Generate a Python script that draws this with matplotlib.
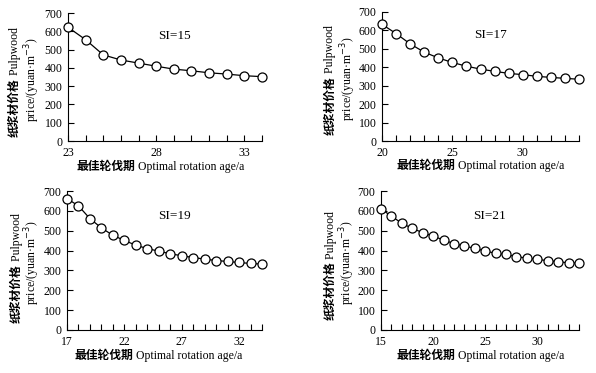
import numpy as np
import matplotlib.pyplot as plt

plt.rcParams['font.family'] = ['Liberation Serif', 'Noto Sans CJK SC']
plt.rcParams['font.size'] = 9

# 各林分的最佳轮伐期与纸浆材价格
age15 = list(range(23, 35))
price15 = [622, 554, 471, 443, 426, 409, 393, 384, 373, 366, 357, 352]
age17 = list(range(20, 35))
price17 = [633, 583, 527, 482, 451, 426, 406, 390, 378, 367, 360, 351, 345, 340, 335]
age19 = list(range(17, 35))
price19 = [662, 625, 561, 514, 477, 451, 427, 410, 397, 384, 374, 365, 357, 350, 345, 340, 335, 332]
age21 = list(range(15, 35))
price21 = [609, 574, 537, 512, 490, 473, 453, 435, 423, 411, 398, 386, 381, 369, 362, 356, 349, 344, 338, 337]

labels = ["SI=15", "SI=17", "SI=19", "SI=21"]
series = [(age15, price15), (age17, price17), (age19, price19), (age21, price21)]
major = [[23, 28, 33], [20, 25, 30], [17, 22, 27, 32], [15, 20, 25, 30]]

W, H = 596, 373
fig = plt.figure(figsize=(W / 100, H / 100), dpi=100)
# 轴位置(像素): left, right, top, bottom
boxes = [(68, 262, 13, 141), (382, 579, 12, 141), (67, 262, 191, 330), (381, 579, 191, 330)]
# 标签位置(轴坐标)
xlab_pos = [(0.345, -0.20), (0.37, -0.19), (0.34, -0.19), (0.375, -0.19)]
ylab1_pos = [(-0.275, 0.03), (-0.262, 0.05), (-0.258, 0.05), (-0.255, 0.07)]
ylab2_pos = [(-0.185, 0.48), (-0.172, 0.48), (-0.178, 0.48), (-0.172, 0.48)]

for i, ((x, y), lab, mj, (l, r, t, b)) in enumerate(zip(series, labels, major, boxes)):
    ax = fig.add_axes([l / W, 1 - b / H, (r - l) / W, (b - t) / H])
    ax.plot(x, y, "-o", color="black", lw=0.9, ms=6.5, mfc="white", mec="black", mew=0.9, clip_on=False, zorder=3)
    ax.set_xlim(x[0], x[-1])
    ax.set_ylim(0, 700)
    ax.set_yticks(range(0, 701, 100))
    ax.set_xticks(mj)
    ax.set_xticks(x, minor=True)
    ax.spines[["top", "right"]].set_visible(False)
    ax.tick_params(direction="in", length=4, width=0.8, labelsize=8.5)
    ax.tick_params(axis="x", pad=4.5)
    ax.tick_params(axis="y", pad=4)
    ax.tick_params(which="minor", direction="in", length=4, width=0.8)
    ax.text(0.55, 0.82, lab, transform=ax.transAxes, ha="center", va="center", fontsize=9.5)

    # x轴标题：中文加粗
    xc, yc = xlab_pos[i]
    t1 = ax.text(xc, yc, "最佳轮伐期", transform=ax.transAxes, ha="right", va="center",
                 fontsize=8.5, fontweight="bold")
    ax.annotate(" Optimal rotation age/a", xy=(1, 0.5), xycoords=t1, ha="left", va="center", fontsize=8.5)

    # y轴标题
    yx, yy = ylab1_pos[i]
    t2 = ax.text(yx, yy, "纸浆材价格", transform=ax.transAxes, ha="center", va="bottom",
                 rotation=90, fontsize=8.5, fontweight="bold")
    ax.annotate(" Pulpwood", xy=(0.5, 1), xycoords=t2, ha="center", va="bottom", rotation=90, fontsize=8.5)
    yx2, yy2 = ylab2_pos[i]
    ax.text(yx2, yy2, "price/(yuan·m$^{-3}$)", transform=ax.transAxes, ha="center", va="center",
            rotation=90, fontsize=8.5)

fig.savefig("out.png", dpi=100)
